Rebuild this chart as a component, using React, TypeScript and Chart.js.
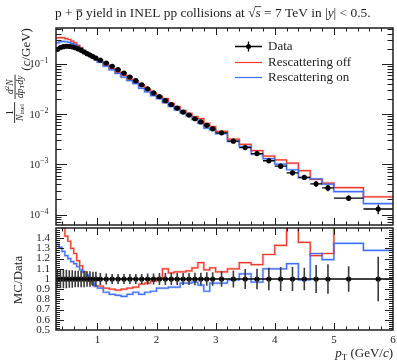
import React, { useEffect, useRef } from "react";
import { Chart, registerables } from "chart.js";
Chart.register(...registerables);

// ---------------- data ----------------
const binEdges = [0.3, 0.35, 0.4, 0.45, 0.5, 0.55, 0.6, 0.65, 0.7, 0.75, 0.8, 0.85, 0.9, 0.95, 1.0,
  1.1, 1.2, 1.3, 1.4, 1.5, 1.6, 1.7, 1.8, 1.9, 2.0, 2.1, 2.2, 2.3, 2.4, 2.5, 2.6, 2.7, 2.8, 2.9, 3.0,
  3.2, 3.4, 3.6, 3.8, 4.0, 4.2, 4.4, 4.6, 4.8, 5.0, 5.5, 6.0];

const dataYield = [0.196, 0.212, 0.221, 0.225, 0.224, 0.219, 0.210, 0.199, 0.187, 0.173, 0.160, 0.150, 0.140, 0.131,
  0.119, 0.104, 0.090, 0.077, 0.066, 0.055, 0.0465, 0.0385, 0.0320, 0.0265,
  0.0224, 0.0186, 0.0155, 0.0132, 0.0110, 0.0096, 0.0081, 0.0070, 0.0060, 0.0051,
  0.00425, 0.0029, 0.00216, 0.00164, 0.00118, 0.00092, 0.00068, 0.00055, 0.00041, 0.00034,
  0.000212, 0.000129];

const dataRelErr = [0.09, 0.09, 0.09, 0.09, 0.085, 0.085, 0.08, 0.08, 0.08, 0.08, 0.075, 0.075, 0.07, 0.07,
  0.06, 0.055, 0.05, 0.05, 0.05, 0.05, 0.05, 0.05, 0.055, 0.055,
  0.06, 0.06, 0.06, 0.06, 0.06, 0.06, 0.062, 0.062, 0.065, 0.065,
  0.075, 0.083, 0.097, 0.10, 0.11, 0.117, 0.117, 0.11, 0.137, 0.145,
  0.125, 0.217];

const ratioRescatOff = [1.68, 1.58, 1.50, 1.42, 1.37, 1.30, 1.25, 1.18, 1.13, 1.07, 1.02, 0.98, 0.95, 0.93,
  0.93, 0.91, 0.90, 0.89, 0.90, 0.91, 0.92, 0.95, 0.96, 0.98,
  1.01, 1.10, 1.06, 1.07, 1.07, 1.08, 1.11, 1.16, 1.09, 1.11,
  1.07, 1.10, 1.16, 1.14, 1.24, 1.33, 1.55, 1.36, 1.23, 1.25,
  1.62, 1.75];

const ratioRescatOn = [1.34, 1.31, 1.27, 1.23, 1.20, 1.17, 1.15, 1.12, 1.09, 1.07, 1.04, 1.00, 0.96, 0.93,
  0.91, 0.87, 0.85, 0.84, 0.83, 0.85, 0.87, 0.85, 0.87, 0.88,
  0.91, 0.91, 0.92, 0.92, 0.96, 0.96, 0.97, 0.94, 0.88, 0.96,
  0.96, 0.99, 1.05, 0.97, 1.10, 1.10, 1.15, 0.99, 1.25, 1.19,
  1.35, 1.28];

const xTickValues = [1, 2, 3, 4, 5, 6];
const ratioTickValues = [0.5, 0.6, 0.7, 0.8, 0.9, 1, 1.1, 1.2, 1.3, 1.4];
const logTickExponents = [-4, -3, -2, -1];
const seriesLabels = ["Data", "Rescattering off", "Rescattering on"];

// ---------------- style / layout ----------------
const W = 397, H = 361;
const LEFT = 56, RIGHT = 393, MAIN_TOP = 28, MAIN_BOTTOM = 228, RATIO_BOTTOM = 330;
const TOP_H = 229, BOT_TOP = 220, BOT_H = H - BOT_TOP;
const X_MIN = 0.3, X_MAX = 6;
const Y_MIN = 6.2e-5, Y_MAX = 0.52;
const R_MIN = 0.5, R_MAX = 1.5;
const SERIF = '"Liberation Serif", "DejaVu Serif", serif';
const INK = "#1e1e1e";
const RED = "#ee3a2a";
const BLUE = "#3d6ef5";
const RED_PALE = "rgba(240,70,55,0.28)";
const BLUE_PALE = "rgba(60,110,245,0.28)";

const binCentres = binEdges.slice(0, -1).map((e, i) => (e + binEdges[i + 1]) / 2);
const mcOff = dataYield.map((d, i) => d * ratioRescatOff[i]);
const mcOn = dataYield.map((d, i) => d * ratioRescatOn[i]);
const stepPoints = (vals: number[]) => binEdges.map((e, i) => ({ x: e, y: vals[Math.min(i, vals.length - 1)] }));

// tick mark positions (styling)
const xMinorTicks: number[] = [];
for (let k = 2; k < 30; k++) if (k % 5 !== 0) xMinorTicks.push(k / 5);
const logMajorTicks = logTickExponents.map((e) => Math.pow(10, e));
const logMinorTicks: number[] = [];
for (let e = -5; e <= -1; e++) for (let m = 2; m <= 9; m++) {
  const v = m * Math.pow(10, e);
  if (v > Y_MIN && v < Y_MAX) logMinorTicks.push(v);
}
const ratioMinorTicks: number[] = [];
for (let k = 26; k < 75; k++) if (k % 5 !== 0) ratioMinorTicks.push(k / 50);

type Seg = { t: string; f: string; dy?: number; over?: boolean; macron?: boolean };
function segWidth(ctx: CanvasRenderingContext2D, segs: Seg[]) {
  let w = 0;
  for (const s of segs) { ctx.font = s.f; w += ctx.measureText(s.t).width; }
  return w;
}
function drawSegs(ctx: CanvasRenderingContext2D, segs: Seg[], x: number, y: number, fs: number) {
  let cx = x;
  for (const s of segs) {
    ctx.font = s.f;
    ctx.fillText(s.t, cx, y + (s.dy || 0));
    const w = ctx.measureText(s.t).width;
    if (s.macron) ctx.fillRect(cx + 0.5, y - fs * 0.56, w - 1, 0.9);
    if (s.over) ctx.fillRect(cx - 0.5, y - fs * 0.8, w + 1, 0.8);
    cx += w;
  }
  return cx;
}

function drawTicksFrame(chart: any, xMajor: number[], xMinor: number[], yMajor: number[], yMinor: number[],
  xMajLen: number, xMinLen: number, yMajLen: number, yMinLen: number) {
  const { ctx, chartArea: a } = chart;
  const xs = chart.scales.x, ys = chart.scales.y;
  ctx.save();
  ctx.strokeStyle = INK;
  ctx.lineWidth = 1;
  ctx.beginPath();
  const vx = (v: number, len: number) => {
    const p = Math.round(xs.getPixelForValue(v)) + 0.5;
    if (p <= a.left + 1 || p >= a.right - 1) return;
    ctx.moveTo(p, a.bottom); ctx.lineTo(p, a.bottom - len);
    ctx.moveTo(p, a.top); ctx.lineTo(p, a.top + len);
  };
  const hy = (v: number, len: number) => {
    const p = Math.round(ys.getPixelForValue(v)) + 0.5;
    if (p <= a.top + 1 || p >= a.bottom - 1) return;
    ctx.moveTo(a.left, p); ctx.lineTo(a.left + len, p);
    ctx.moveTo(a.right, p); ctx.lineTo(a.right - len, p);
  };
  xMajor.forEach((v) => vx(v, xMajLen));
  xMinor.forEach((v) => vx(v, xMinLen));
  yMajor.forEach((v) => hy(v, yMajLen));
  yMinor.forEach((v) => hy(v, yMinLen));
  ctx.stroke();
  ctx.lineWidth = 1.5;
  ctx.strokeRect(a.left, a.top, a.right - a.left, a.bottom - a.top);
  ctx.restore();
}

const topPlugin = {
  id: "topDecor",
  afterDatasetsDraw(chart: any) {
    const { ctx, chartArea: a } = chart;
    const xs = chart.scales.x, ys = chart.scales.y;
    ctx.save();
    ctx.beginPath();
    ctx.rect(a.left, a.top, a.right - a.left, a.bottom - a.top);
    ctx.clip();
    ctx.strokeStyle = "#000";
    ctx.lineWidth = 1.3;
    ctx.beginPath();
    dataYield.forEach((d, i) => {
      const y = ys.getPixelForValue(d);
      const x0 = xs.getPixelForValue(binEdges[i]), x1 = xs.getPixelForValue(binEdges[i + 1]);
      const xc = xs.getPixelForValue(binCentres[i]);
      ctx.moveTo(x0, y); ctx.lineTo(x1, y);
      ctx.moveTo(xc, ys.getPixelForValue(d * (1 - dataRelErr[i])));
      ctx.lineTo(xc, ys.getPixelForValue(d * (1 + dataRelErr[i])));
    });
    ctx.stroke();
    ctx.restore();
  },
  afterDraw(chart: any) {
    const { ctx } = chart;
    const ys = chart.scales.y;
    drawTicksFrame(chart, xTickValues, xMinorTicks, logMajorTicks, logMinorTicks, 7, 3.5, 11, 5.5);
    ctx.save();
    ctx.fillStyle = INK;
    ctx.textBaseline = "alphabetic";
    ctx.textAlign = "left";
    // log tick labels
    logTickExponents.forEach((e) => {
      const y = ys.getPixelForValue(Math.pow(10, e));
      const base = `10.5px ${SERIF}`, sup = `8px ${SERIF}`;
      const segs: Seg[] = [{ t: "10", f: base, dy: 3.5 }, { t: "\u2212" + String(-e), f: sup, dy: -1 }];
      const w = segWidth(ctx, segs);
      drawSegs(ctx, segs, 48.5 - w, y, 10);
    });
    // title
    const fs = 13.4;
    const reg = `${fs}px ${SERIF}`, it = `italic ${fs}px ${SERIF}`;
    drawSegs(ctx, [
      { t: "p + ", f: reg }, { t: "p", f: reg, macron: true },
      { t: " yield in INEL pp collisions at ", f: reg },
      { t: "\u221A", f: reg }, { t: "s", f: it, over: true },
      { t: " = 7 TeV in |", f: reg }, { t: "y", f: it }, { t: "| < 0.5.", f: reg },
    ], 55, 17, fs);
    // legend
    const rows = [46, 62, 77];
    const colors = ["#000", RED, BLUE];
    rows.forEach((y, i) => {
      ctx.strokeStyle = colors[i];
      ctx.lineWidth = i === 0 ? 1.3 : 1.2;
      ctx.beginPath();
      ctx.moveTo(235, y + 0.5); ctx.lineTo(262, y + 0.5);
      if (i === 0) { ctx.moveTo(248.5, y - 4.5); ctx.lineTo(248.5, y + 5.5); }
      ctx.stroke();
      if (i === 0) { ctx.fillStyle = "#000"; ctx.beginPath(); ctx.arc(248.5, y + 0.5, 2.5, 0, Math.PI * 2); ctx.fill(); }
      ctx.fillStyle = INK;
      ctx.font = `13px ${SERIF}`;
      ctx.textBaseline = "middle";
      ctx.fillText(seriesLabels[i], 268, y + 1);
    });
    ctx.textBaseline = "alphabetic";
    // y title
    ctx.translate(0, 123);
    ctx.rotate(-Math.PI / 2);
    const sm = `9.5px ${SERIF}`, smi = `italic 9.5px ${SERIF}`, tn = `7px ${SERIF}`, tni = `italic 7px ${SERIF}`;
    // fraction 1 : 1 / N_inel
    ctx.fillRect(0, 14.2, 21, 0.9);
    ctx.font = sm; ctx.textAlign = "center"; ctx.fillText("1", 10.5, 12.5);
    ctx.textAlign = "left";
    let segs: Seg[] = [{ t: "N", f: smi }, { t: "inel", f: tn, dy: 1.8 }];
    let w = segWidth(ctx, segs);
    drawSegs(ctx, segs, 10.5 - w / 2, 22.5, 9);
    // fraction 2 : d^2N / dp_T dy
    segs = [{ t: "dp", f: smi }, { t: "T", f: tni, dy: 1.8 }, { t: "d", f: smi }, { t: "y", f: smi }];
    w = segWidth(ctx, segs);
    const f2s = 24, f2c = f2s + w / 2 + 1;
    ctx.fillRect(f2s, 14.6, w + 2, 0.9);
    drawSegs(ctx, segs, f2c - w / 2, 22.5, 9);
    segs = [{ t: "d", f: smi }, { t: "2", f: tn, dy: -3.5 }, { t: "N", f: smi }];
    const w2 = segWidth(ctx, segs);
    drawSegs(ctx, segs, f2c - w2 / 2, 12.5, 9);
    // (c/GeV)
    drawSegs(ctx, [{ t: "(", f: `13px ${SERIF}` }, { t: "c", f: `italic 13px ${SERIF}` }, { t: "/GeV)", f: `13px ${SERIF}` }],
      f2s + w + 6, 30, 13);
    ctx.restore();
  },
};

const bottomPlugin = {
  id: "botDecor",
  afterDatasetsDraw(chart: any) {
    const { ctx, chartArea: a } = chart;
    const xs = chart.scales.x, ys = chart.scales.y;
    ctx.save();
    ctx.beginPath();
    ctx.rect(a.left, a.top, a.right - a.left, a.bottom - a.top);
    ctx.clip();
    ctx.strokeStyle = "#3a3a3a";
    ctx.lineWidth = 1.6;
    ctx.beginPath();
    binCentres.forEach((xv, i) => {
      const xc = xs.getPixelForValue(xv);
      ctx.moveTo(xc, ys.getPixelForValue(1 - dataRelErr[i]));
      ctx.lineTo(xc, ys.getPixelForValue(1 + dataRelErr[i]));
    });
    ctx.stroke();
    ctx.strokeStyle = "#000";
    ctx.lineWidth = 1.6;
    ctx.beginPath();
    const y1 = ys.getPixelForValue(1);
    ctx.moveTo(xs.getPixelForValue(binEdges[0]), y1);
    ctx.lineTo(xs.getPixelForValue(binEdges[binEdges.length - 1]), y1);
    ctx.stroke();
    ctx.restore();
  },
  afterDraw(chart: any) {
    const { ctx } = chart;
    drawTicksFrame(chart, xTickValues, xMinorTicks, ratioTickValues.filter((v) => v > R_MIN), ratioMinorTicks, 7, 3.5, 8, 4);
    ctx.save();
    ctx.fillStyle = INK;
    // x title
    const segs: Seg[] = [
      { t: "p", f: `italic 13px ${SERIF}` }, { t: "T", f: `9px ${SERIF}`, dy: 2.5 },
      { t: " (GeV/", f: `13px ${SERIF}` }, { t: "c", f: `italic 13px ${SERIF}` }, { t: ")", f: `13px ${SERIF}` },
    ];
    const w = segWidth(ctx, segs);
    ctx.textAlign = "left";
    ctx.textBaseline = "alphabetic";
    drawSegs(ctx, segs, RIGHT - w, 357 - BOT_TOP, 13);
    // y title
    ctx.translate(22, 280 - BOT_TOP);
    ctx.rotate(-Math.PI / 2);
    ctx.textAlign = "center";
    ctx.font = `13px ${SERIF}`;
    ctx.fillText("MC/Data", 0, 0);
    ctx.restore();
  },
};

function topConfig(): any {
  return {
    type: "line",
    data: {
      datasets: [
        { label: "off band", data: stepPoints(mcOff), stepped: true, borderColor: RED_PALE, borderWidth: 2.6, pointRadius: 0, fill: false, order: 6 },
        { label: "on band", data: stepPoints(mcOn), stepped: true, borderColor: BLUE_PALE, borderWidth: 2.6, pointRadius: 0, fill: false, order: 5 },
        { label: seriesLabels[1], data: stepPoints(mcOff), stepped: true, borderColor: RED, borderWidth: 1.2, pointRadius: 0, fill: false, order: 3 },
        { label: seriesLabels[2], data: stepPoints(mcOn), stepped: true, borderColor: BLUE, borderWidth: 1.2, pointRadius: 0, fill: false, order: 2 },
        { type: "scatter", label: seriesLabels[0], data: binCentres.map((x, i) => ({ x, y: dataYield[i] })), pointRadius: 2.6, pointBackgroundColor: "#000", pointBorderWidth: 0, showLine: false, order: 1 },
      ],
    },
    options: {
      responsive: false, animation: false, devicePixelRatio: 1, events: [],
      layout: { padding: { left: LEFT, right: W - RIGHT, top: MAIN_TOP, bottom: TOP_H - MAIN_BOTTOM } },
      scales: {
        x: { type: "linear", min: X_MIN, max: X_MAX, display: false },
        y: { type: "logarithmic", min: Y_MIN, max: Y_MAX, display: false },
      },
      plugins: { legend: { display: false }, tooltip: { enabled: false }, title: { display: false } },
    },
    plugins: [topPlugin],
  };
}

function bottomConfig(): any {
  return {
    type: "line",
    data: {
      datasets: [
        { label: "off band", data: stepPoints(ratioRescatOff), stepped: true, borderColor: RED_PALE, borderWidth: 2.6, pointRadius: 0, fill: false, order: 6 },
        { label: "on band", data: stepPoints(ratioRescatOn), stepped: true, borderColor: BLUE_PALE, borderWidth: 2.6, pointRadius: 0, fill: false, order: 5 },
        { label: seriesLabels[1], data: stepPoints(ratioRescatOff), stepped: true, borderColor: RED, borderWidth: 1.2, pointRadius: 0, fill: false, order: 3 },
        { label: seriesLabels[2], data: stepPoints(ratioRescatOn), stepped: true, borderColor: BLUE, borderWidth: 1.2, pointRadius: 0, fill: false, order: 2 },
        { type: "scatter", label: seriesLabels[0], data: binCentres.map((x) => ({ x, y: 1 })), pointRadius: 2.6, pointBackgroundColor: "#000", pointBorderWidth: 0, showLine: false, order: 1 },
      ],
    },
    options: {
      responsive: false, animation: false, devicePixelRatio: 1, events: [],
      layout: { padding: { left: 0, right: W - RIGHT, top: MAIN_BOTTOM - BOT_TOP, bottom: 0 } },
      scales: {
        x: {
          type: "linear", min: X_MIN, max: X_MAX,
          afterBuildTicks: (s: any) => { s.ticks = xTickValues.map((v) => ({ value: v })); },
          afterFit: (s: any) => { s.height = BOT_TOP + BOT_H - RATIO_BOTTOM; s.paddingLeft = 0; s.paddingRight = 0; },
          ticks: { autoSkip: false, maxRotation: 0, padding: 4, color: INK, font: { family: SERIF, size: 11 }, callback: (v: any) => String(v) },
          grid: { display: false, drawTicks: false }, border: { display: false },
        },
        y: {
          type: "linear", min: R_MIN, max: R_MAX,
          afterBuildTicks: (s: any) => { s.ticks = ratioTickValues.map((v) => ({ value: v })); },
          afterFit: (s: any) => { s.width = LEFT; s.paddingTop = 0; s.paddingBottom = 0; },
          ticks: { autoSkip: false, padding: 6, color: INK, font: { family: SERIF, size: 11 }, callback: (v: any) => String(v) },
          grid: { display: false, drawTicks: false }, border: { display: false },
        },
      },
      plugins: { legend: { display: false }, tooltip: { enabled: false }, title: { display: false } },
    },
    plugins: [bottomPlugin],
  };
}

export default function App() {
  const topRef = useRef<HTMLCanvasElement>(null);
  const botRef = useRef<HTMLCanvasElement>(null);
  useEffect(() => {
    const c1 = new Chart(topRef.current as HTMLCanvasElement, topConfig());
    const c2 = new Chart(botRef.current as HTMLCanvasElement, bottomConfig());
    return () => { c1.destroy(); c2.destroy(); };
  }, []);
  return (
    <div style={{ position: "fixed", left: 0, top: 0, width: W, height: H, background: "#fff" }}>
      <canvas ref={topRef} width={W} height={TOP_H} style={{ position: "absolute", left: 0, top: 0, width: W, height: TOP_H }} />
      <canvas ref={botRef} width={W} height={BOT_H} style={{ position: "absolute", left: 0, top: BOT_TOP, width: W, height: BOT_H }} />
    </div>
  );
}
